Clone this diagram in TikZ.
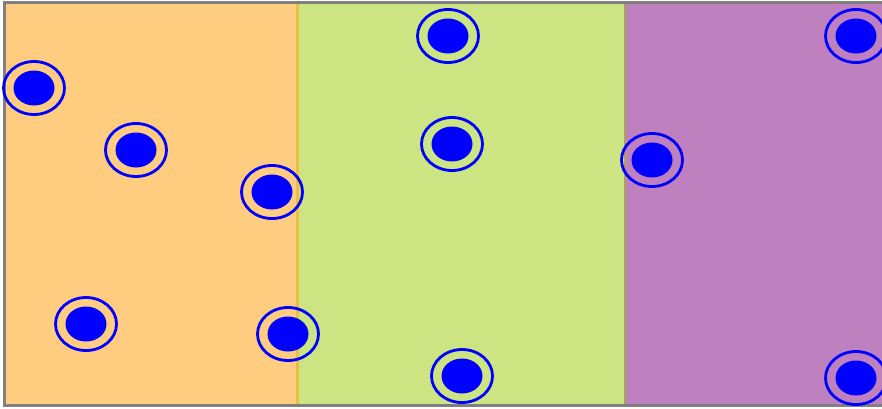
\documentclass[tikz,border=0pt]{standalone}
\usepackage{tikz}
\usepackage{xcolor}
\usetikzlibrary{shapes.geometric}
\usetikzlibrary{positioning}

\definecolor{zoneA}{RGB}{255,204,128}
\definecolor{zoneB}{RGB}{205,228,130}
\definecolor{zoneC}{RGB}{191,128,191}
\definecolor{edgeA}{RGB}{236,190,64}
\definecolor{edgeB}{RGB}{170,160,96}

\begin{document}
\begin{tikzpicture}[x=1pt, y=-1pt]
\def\rimw{61pt}
\def\rimh{53pt}
\def\dotw{41pt}
\def\doth{35pt}
\tikzset{
  ring/.style={draw=blue, line width=2.8pt, ellipse, minimum width=\rimw, minimum height=\rimh, inner sep=0pt},
  dot/.style={fill=blue, ellipse, minimum width=\dotw, minimum height=\doth, inner sep=0pt}
}
\useasboundingbox (0,0) rectangle (882,408);
\clip (0,0) rectangle (882,408);

% zones
\fill[zoneA] (4,2) rectangle (297,405);
\fill[zoneB] (297,2) rectangle (625,405);
\fill[zoneC] (625,2) rectangle (890,405);
\draw[edgeA, line width=3pt] (297,2) -- (297,405);
\draw[edgeB, line width=2.5pt] (625,2) -- (625,405);
\draw[gray, line width=3pt] (890,2) -- (4,2) -- (4,405) -- (890,405);

% particles
\node[ring] (r1) at (34,88) {};
\node[dot] (d1) at (34,88) {};

\node[ring] (r2) at (136,150) {};
\node[dot] (d2) at (136,150) {};

\node[ring] (r3) at (272,192) {};
\node[dot] (d3) at (272,192) {};

\node[ring] (r4) at (86,324) {};
\node[dot] (d4) at (86,324) {};

\node[ring] (r5) at (288,334) {};
\node[dot] (d5) at (288,334) {};

\node[ring] (r6) at (448,36) {};
\node[dot] (d6) at (448,36) {};

\node[ring] (r7) at (452,144) {};
\node[dot] (d7) at (452,144) {};

\node[ring] (r8) at (462,376) {};
\node[dot] (d8) at (462,376) {};

\node[ring] (r9) at (652,160) {};
\node[dot] (d9) at (652,160) {};

\node[ring] (r10) at (856,36) {};
\node[dot] (d10) at (856,36) {};

\node[ring] (r11) at (856,378) {};
\node[dot] (d11) at (856,378) {};
\end{tikzpicture}
\end{document}
